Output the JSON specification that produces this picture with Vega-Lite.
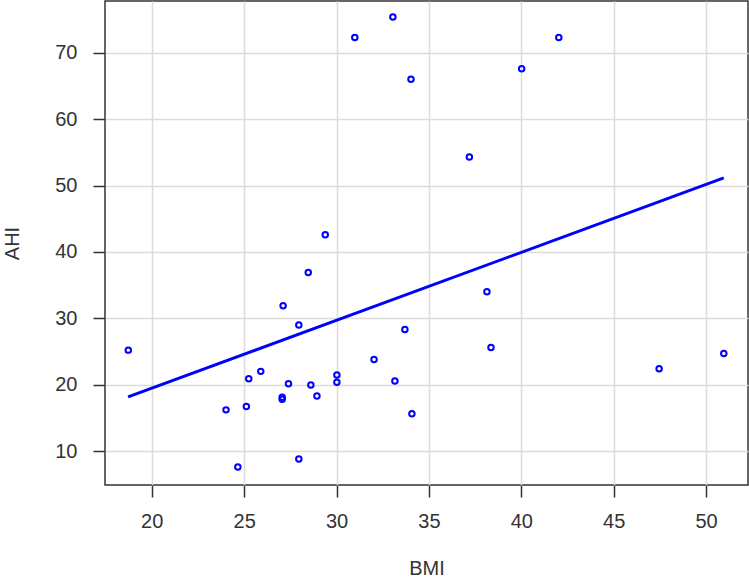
{
  "$schema": "https://vega.github.io/schema/vega-lite/v6.json",
  "width": 643,
  "height": 484,
  "autosize": "none",
  "padding": {"left": 105, "top": 1, "right": 1, "bottom": 92},
  "background": "white",
  "config": {
    "view": {"stroke": "#333333", "strokeWidth": 1.5},
    "font": "Liberation Sans",
    "axis": {
      "domain": false,
      "grid": true,
      "gridColor": "#dcdcdc",
      "gridWidth": 1.5,
      "tickColor": "#333333",
      "tickWidth": 1.5,
      "tickSize": 12,
      "labelFont": "Liberation Sans",
      "labelFontSize": 20,
      "labelColor": "#333333",
      "titleFont": "Liberation Sans",
      "titleFontSize": 20,
      "titleFontWeight": "normal",
      "titleColor": "#333333"
    }
  },
  "datasets": {
    "pts": [
      {"BMI": 18.73, "AHI": 25.2},
      {"BMI": 24.02, "AHI": 16.2},
      {"BMI": 24.66, "AHI": 7.6},
      {"BMI": 25.12, "AHI": 16.7},
      {"BMI": 25.25, "AHI": 20.9},
      {"BMI": 25.9, "AHI": 22.0},
      {"BMI": 27.11, "AHI": 31.9},
      {"BMI": 27.06, "AHI": 18.1},
      {"BMI": 27.06, "AHI": 17.8},
      {"BMI": 27.4, "AHI": 20.15},
      {"BMI": 27.96, "AHI": 29.0},
      {"BMI": 27.96, "AHI": 8.8},
      {"BMI": 28.61, "AHI": 19.95},
      {"BMI": 28.94, "AHI": 18.3},
      {"BMI": 30.02, "AHI": 21.45},
      {"BMI": 30.02, "AHI": 20.35},
      {"BMI": 32.03, "AHI": 23.8},
      {"BMI": 38.14, "AHI": 34.0},
      {"BMI": 33.7, "AHI": 28.3},
      {"BMI": 38.36, "AHI": 25.6},
      {"BMI": 33.16, "AHI": 20.55},
      {"BMI": 34.08, "AHI": 15.6},
      {"BMI": 47.46, "AHI": 22.4},
      {"BMI": 50.96, "AHI": 24.7},
      {"BMI": 30.99, "AHI": 72.3},
      {"BMI": 29.39, "AHI": 42.6},
      {"BMI": 28.47, "AHI": 36.9},
      {"BMI": 33.05, "AHI": 75.4},
      {"BMI": 34.03, "AHI": 66.0},
      {"BMI": 40.02, "AHI": 67.6},
      {"BMI": 42.03, "AHI": 72.3},
      {"BMI": 37.19, "AHI": 54.3}
    ],
    "fit": [
      {"BMI": 18.72, "AHI": 18.15},
      {"BMI": 50.96, "AHI": 51.15}
    ]
  },
  "layer": [
    {
      "data": {"name": "pts"},
      "mark": {"type": "point", "shape": "circle", "filled": false, "color": "#0000ff", "size": 30, "strokeWidth": 2, "opacity": 1},
      "encoding": {
        "x": {"field": "BMI", "type": "quantitative", "scale": {"domain": [17.47, 52.27], "nice": false, "zero": false},
              "axis": {"values": [20, 25, 30, 35, 40, 45, 50], "title": "BMI", "labelPadding": 14, "titlePadding": 27}},
        "y": {"field": "AHI", "type": "quantitative", "scale": {"domain": [4.88, 77.8], "nice": false, "zero": false},
              "axis": {"values": [10, 20, 30, 40, 50, 60, 70], "title": "AHI", "labelPadding": 16, "titlePadding": 32}}
      }
    },
    {
      "data": {"name": "fit"},
      "mark": {"type": "line", "color": "#0000ff", "strokeWidth": 3},
      "encoding": {
        "x": {"field": "BMI", "type": "quantitative"},
        "y": {"field": "AHI", "type": "quantitative"}
      }
    }
  ]
}
